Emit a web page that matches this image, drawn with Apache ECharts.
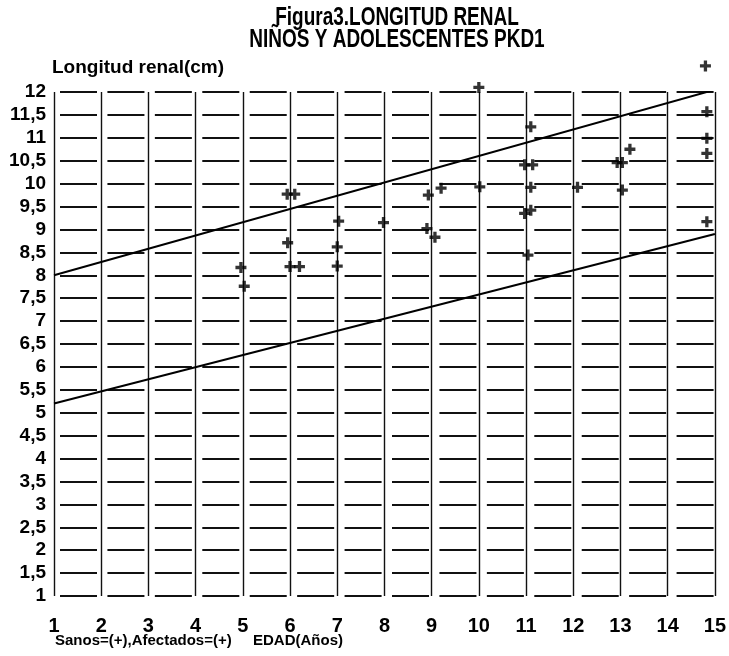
<!DOCTYPE html>
<html>
<head>
<meta charset="utf-8">
<script src="https://cdn.jsdelivr.net/npm/echarts@6/dist/echarts.min.js"></script>
<style>
  html, body { margin: 0; padding: 0; background: #fff; }
  #chart { width: 729px; height: 656px; }
</style>
</head>
<body>
<div id="chart"></div>
<script>
// kidney length points (age in years, length in cm)
const ages = [4.96, 5.03, 5.94, 6.1, 5.95, 6.0, 6.2, 7.03, 7.0, 7.0, 7.98,
  8.93, 9.2, 8.9, 9.07, 10.02, 10.0, 11.1, 10.97, 11.14, 11.1, 10.97, 11.1, 11.04,
  12.09, 12.93, 13.04, 13.2, 13.04, 14.83, 14.83, 14.83, 14.83, 14.8];
const lengths = [8.17, 7.76, 9.77, 9.77, 8.71, 8.19, 8.19, 9.18, 8.62, 8.2, 9.15,
  9.75, 9.9, 9.02, 8.83, 9.93, 12.1, 11.24, 10.41, 10.41, 9.92, 9.35, 9.42, 8.44,
  9.92, 10.46, 10.46, 10.75, 9.86, 11.57, 10.99, 10.66, 9.17, 12.57];

// the two reference lines
const upperLine = [[1, 8.0], [15, 12.05]];
const lowerLine = [[1, 5.2], [15, 8.9]];

const xTicks = [1, 15, 1];     // min, max, step
const yTicks = [1, 12, 0.5];

const font = "'Liberation Sans', Arial, sans-serif";
const plus = 'path://M3.5,0h3v3.5h3.5v3h-3.5v3.5h-3v-3.5h-3.5v-3h3.5z';

const chart = echarts.init(document.getElementById('chart'));

const points = ages.map((a, i) => [a, lengths[i]]);

chart.setOption({
  animation: false,
  backgroundColor: '#fff',
  grid: { left: 54, right: 11, top: 92, bottom: 60 },
  xAxis: {
    type: 'value',
    min: xTicks[0], max: xTicks[1], interval: xTicks[2],
    axisLine: { show: false },
    axisTick: { show: false },
    axisLabel: { margin: 20, color: '#000', fontFamily: font, fontWeight: 'bold', fontSize: 20 },
    splitLine: { show: true, lineStyle: { color: '#111', width: 1.4, type: 'solid' } }
  },
  yAxis: {
    type: 'value',
    min: yTicks[0], max: yTicks[1], interval: yTicks[2],
    axisLine: { show: false },
    axisTick: { show: false },
    axisLabel: {
      margin: 8, color: '#000', fontFamily: font, fontWeight: 'bold', fontSize: 19,
      formatter: v => String(v).replace('.', ',')
    },
    splitLine: { show: true, lineStyle: { color: '#111', width: 2, type: [37, 10.43], dashOffset: 41.43 } }
  },
  series: [
    {
      type: 'line', data: upperLine, symbol: 'none',
      lineStyle: { color: '#000', width: 2 }
    },
    {
      type: 'line', data: lowerLine, symbol: 'none',
      lineStyle: { color: '#000', width: 2 }
    },
    {
      type: 'scatter', data: points, symbol: plus, symbolSize: 11, clip: false,
      itemStyle: { color: '#000' }
    }
  ],
  graphic: [
    {
      type: 'text', x: 397, y: 5, scaleX: 0.73,
      style: { text: 'Figura3.LONGITUD RENAL', x: 0, y: 0, align: 'center', fill: '#000', font: 'bold 26px ' + font }
    },
    {
      type: 'text', x: 397, y: 27, scaleX: 0.73,
      style: { text: 'NIÑOS Y ADOLESCENTES PKD1', x: 0, y: 0, align: 'center', fill: '#000', font: 'bold 26px ' + font }
    },
    {
      type: 'text', x: 52, y: 58,
      style: { text: 'Longitud renal(cm)', fill: '#000', font: 'bold 19px ' + font }
    },
    {
      type: 'text', x: 55, y: 633,
      style: { text: 'Sanos=(+),Afectados=(+)', fill: '#000', font: 'bold 15px ' + font }
    },
    {
      type: 'text', x: 253, y: 633,
      style: { text: 'EDAD(Años)', fill: '#000', font: 'bold 15px ' + font }
    }
  ]
});
</script>
</body>
</html>
